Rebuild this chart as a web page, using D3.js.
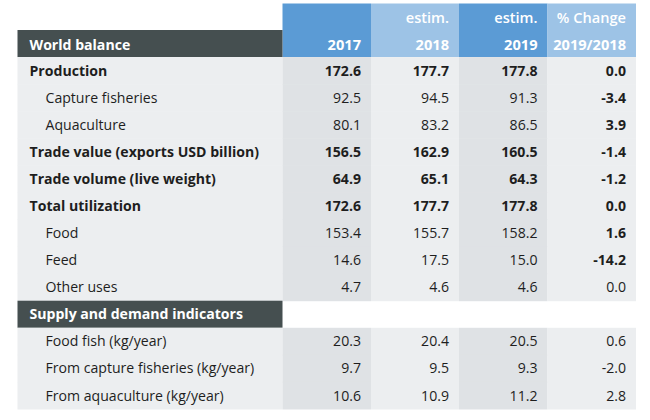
<!DOCTYPE html>
<html><head><meta charset="utf-8">
<script src="https://cdn.jsdelivr.net/npm/d3@7"></script>
<style>body{margin:0;background:#fff;} svg{display:block;}</style>
</head><body>
<script>
const columnTop = ["", "estim.", "estim.", "% Change"];
const columnBottom = ["2017", "2018", "2019", "2019/2018"];
const rowLabels = ["Production","Capture fisheries","Aquaculture","Trade value (exports USD billion)","Trade volume (live weight)","Total utilization","Food","Feed","Other uses","Supply and demand indicators","Food fish (kg/year)","From capture fisheries (kg/year)","From aquaculture (kg/year)"];
const rowKind = ["main","sub","sub","main","main","main","sub","sub","sub","section","sub","sub","sub"];
const values2017 = ["172.6","92.5","80.1","156.5","64.9","172.6","153.4","14.6","4.7",null,"20.3","9.7","10.6"];
const values2018 = ["177.7","94.5","83.2","162.9","65.1","177.7","155.7","17.5","4.6",null,"20.4","9.5","10.9"];
const values2019 = ["177.8","91.3","86.5","160.5","64.3","177.8","158.2","15.0","4.6",null,"20.5","9.3","11.2"];
const pctChange = ["0.0","-3.4","3.9","-1.4","-1.2","0.0","1.6","-14.2","0.0",null,"0.6","-2.0","2.8"];
const pctBold = [true,true,true,true,true,true,true,true,false,false,false,false,false];
const headerTitle = "World balance";

const W = 650, H = 420;
const svg = d3.select("body").append("svg").attr("width", W).attr("height", H);
const font = "'Open Sans', 'Noto Sans', sans-serif";
const fs = 14.1;

const cols = ["label", "c2017", "c2018", "c2019", "pct"];
const x = d3.scaleOrdinal().domain(cols).range([17.5, 282.5, 371, 459, 547.5]);
const colW = {label: 265, c2017: 88.5, c2018: 88, c2019: 88.5, pct: 88.5};
const rowsDomain = ["header"].concat(rowLabels.map((d,i)=>"r"+i));
const y = d3.scaleBand().domain(rowsDomain).range([30, 409]).padding(0);
const rh = y.bandwidth();

const headBlue = ["#5b9bd5", "#9dc3e6", "#5b9bd5", "#9dc3e6"];
const bodyFill = {label: "#eceef0", c2017: "#dfe2e5", c2018: "#eceef0", c2019: "#dfe2e5", pct: "#eceef0"};
const dark = "#454f50";

const dataCols = cols.slice(1);
svg.selectAll("rect.hb").data(dataCols).join("rect")
  .attr("x", d => x(d)).attr("y", 3.5).attr("width", d => colW[d]).attr("height", y("header") + rh - 3.5)
  .attr("fill", (d,i) => headBlue[i]);
svg.append("rect").attr("x", x("label")).attr("y", y("header")).attr("width", colW.label).attr("height", rh).attr("fill", dark);
svg.append("text").attr("x", x("label") + 12).attr("y", y("header") + rh/2 + 1).attr("dy", "0.36em")
  .attr("font-family", font).attr("font-weight", "bold").attr("font-size", fs).attr("fill", "#fff").text(headerTitle);
svg.selectAll("text.ht").data(dataCols).join("text")
  .attr("x", d => x(d) + colW[d] - 10).attr("y", 18).attr("dy", "0.36em").attr("text-anchor", "end")
  .attr("font-family", font).attr("font-weight", 600).attr("font-size", 14.6).attr("fill", "#fff")
  .text((d,i) => columnTop[i]);
svg.selectAll("text.hb2").data(dataCols).join("text")
  .attr("x", d => x(d) + colW[d] - 10).attr("y", y("header") + rh/2 + 1).attr("dy", "0.36em").attr("text-anchor", "end")
  .attr("font-family", font).attr("font-weight", "bold").attr("font-size", 14.6).attr("fill", "#fff")
  .text((d,i) => columnBottom[i]);

const rows = rowLabels.map((lab, i) => ({i, lab, kind: rowKind[i], vals: [values2017[i], values2018[i], values2019[i], pctChange[i]], key: "r"+i}));
rows.forEach(r => {
  const g = svg.append("g");
  if (r.kind === "section") {
    g.append("rect").attr("x", x("label")).attr("y", y(r.key)).attr("width", colW.label).attr("height", rh).attr("fill", dark);
    g.append("text").attr("x", x("label") + 12).attr("y", y(r.key) + rh/2).attr("dy", "0.36em")
      .attr("font-family", font).attr("font-weight", "bold").attr("font-size", fs).attr("fill", "#fff").text(r.lab);
    return;
  }
  cols.forEach(c => {
    g.append("rect").attr("x", x(c)).attr("y", y(r.key)).attr("width", colW[c]).attr("height", rh + 0.5).attr("fill", bodyFill[c]);
  });
  const bold = r.kind === "main";
  g.append("text").attr("x", x("label") + (bold ? 12 : 28)).attr("y", y(r.key) + rh/2).attr("dy", "0.36em")
    .attr("font-family", font).attr("font-weight", bold ? "bold" : "normal").attr("font-size", fs).attr("fill", "#1e1e1e").text(r.lab);
  dataCols.forEach((c, j) => {
    const b = j === 3 ? pctBold[r.i] : bold;
    g.append("text").attr("x", x(c) + colW[c] - 10).attr("y", y(r.key) + rh/2).attr("dy", "0.36em").attr("text-anchor", "end")
      .attr("font-family", font).attr("font-weight", b ? "bold" : "normal").attr("font-size", fs).attr("fill", "#1e1e1e").text(r.vals[j]);
  });
});
</script>
</body></html>
